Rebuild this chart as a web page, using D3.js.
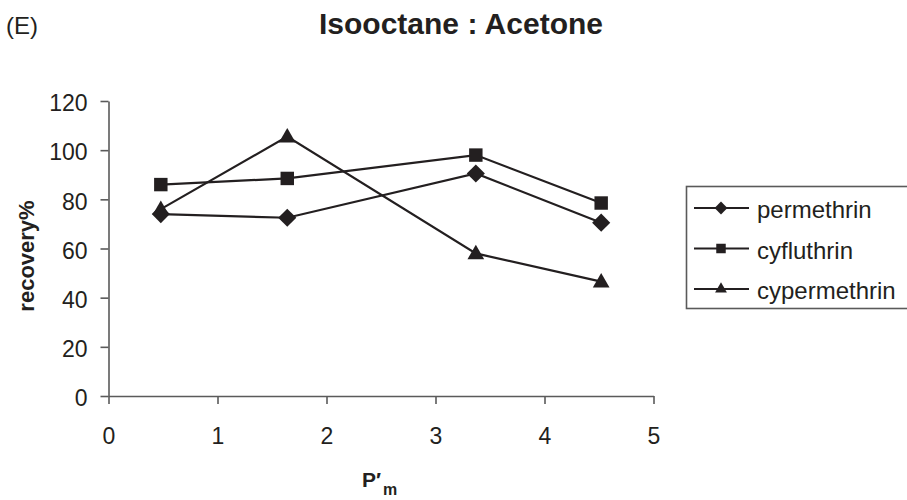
<!DOCTYPE html>
<html>
<head>
<meta charset="utf-8">
<script src="https://cdn.jsdelivr.net/npm/d3@7"></script>
<style>
  html, body { margin: 0; padding: 0; background: #fff; }
  svg { display: block; font-family: "Liberation Sans", Arial, sans-serif; }
</style>
</head>
<body>
<svg id="chart" width="907" height="500"></svg>
<script>
// P'm (polarity) values of the solvent mixtures
const pm = [0.48, 1.64, 3.37, 4.52];
// Recovery (%) per pesticide
const permethrin = [74, 72.5, 90.5, 70.5];
const cyfluthrin = [86, 88.5, 98, 78.5];
const cypermethrin = [76, 105.5, 58, 46.5];
const seriesNames = ["permethrin", "cyfluthrin", "cypermethrin"];
const xTicks = [0, 1, 2, 3, 4, 5];
const yTicks = [0, 20, 40, 60, 80, 100, 120];

const series = [
  { name: seriesNames[0], values: permethrin, shape: d3.symbolDiamond2, size: 210 },
  { name: seriesNames[1], values: cyfluthrin, shape: d3.symbolSquare2, size: 230 },
  { name: seriesNames[2], values: cypermethrin, shape: d3.symbolTriangle2, size: 200 }
];

const svg = d3.select("#chart");
const ink = "#231f20";
const axisColor = "#5a5a5a";
const font = "'Liberation Sans', Arial, sans-serif";

const x = d3.scaleLinear().domain([0, 5]).range([108.5, 653.5]);
const y = d3.scaleLinear().domain([0, 120]).range([396, 101]);

// Axes
const xAxis = svg.append("g").attr("transform", `translate(0,${y(0)})`)
  .call(d3.axisBottom(x).tickValues(xTicks).tickFormat(d3.format("d"))
    .tickSize(8).tickPadding(24).tickSizeOuter(0));
const yAxis = svg.append("g").attr("transform", `translate(${x(0)},0)`)
  .call(d3.axisLeft(y).tickValues(yTicks).tickFormat(d3.format("d"))
    .tickSize(8).tickPadding(13).tickSizeOuter(0));
[xAxis, yAxis].forEach(g => {
  g.selectAll("path, line").attr("stroke", axisColor).attr("stroke-width", 1.6);
  g.selectAll("text").attr("fill", ink).style("font-size", "23px").style("font-family", font);
});
yAxis.selectAll("text").attr("dy", "0.42em");

// Lines and markers
const line = d3.line().x((d, i) => x(pm[i])).y(d => y(d));
series.forEach(s => {
  svg.append("path").datum(s.values)
    .attr("d", line).attr("fill", "none").attr("stroke", ink).attr("stroke-width", 2.2);
  svg.append("g").selectAll("path").data(s.values).join("path")
    .attr("transform", (d, i) => `translate(${x(pm[i])},${y(d) + (s.shape === d3.symbolTriangle2 ? 1 : 0)})`)
    .attr("d", d3.symbol().type(s.shape).size(s.size))
    .attr("fill", ink);
});

// Titles
svg.append("text").attr("x", 6).attr("y", 34).text("(E)")
  .attr("fill", ink).style("font-size", "24px");
svg.append("text").attr("x", 461).attr("y", 34).attr("text-anchor", "middle")
  .text("Isooctane : Acetone").attr("fill", ink)
  .style("font-size", "30px").style("font-weight", "bold");
svg.append("text").attr("transform", "translate(34,256) rotate(-90)")
  .attr("text-anchor", "middle").text("recovery%").attr("fill", ink)
  .style("font-size", "22px").style("font-weight", "bold");
const xl = svg.append("text").attr("x", 362).attr("y", 487).attr("fill", ink)
  .style("font-size", "21px").style("font-weight", "bold");
xl.append("tspan").text("P′");
xl.append("tspan").attr("dx", 2).attr("dy", 8).style("font-size", "16px").text("m");

// Legend
const lg = svg.append("g");
lg.append("rect").attr("x", 686.5).attr("y", 186.5).attr("width", 230).attr("height", 122)
  .attr("fill", "#fff").attr("stroke", axisColor).attr("stroke-width", 1.6);
series.forEach((s, i) => {
  const ly = 208 + i * 40.5;
  lg.append("line").attr("x1", 694).attr("x2", 749).attr("y1", ly).attr("y2", ly)
    .attr("stroke", ink).attr("stroke-width", 2.2);
  lg.append("path").attr("transform", `translate(721,${ly})`)
    .attr("d", d3.symbol().type(s.shape).size(s.size * 0.5)).attr("fill", ink);
  lg.append("text").attr("x", 757).attr("y", ly + 10).text(s.name)
    .attr("fill", ink).style("font-size", "24px");
});
</script>
</body>
</html>
